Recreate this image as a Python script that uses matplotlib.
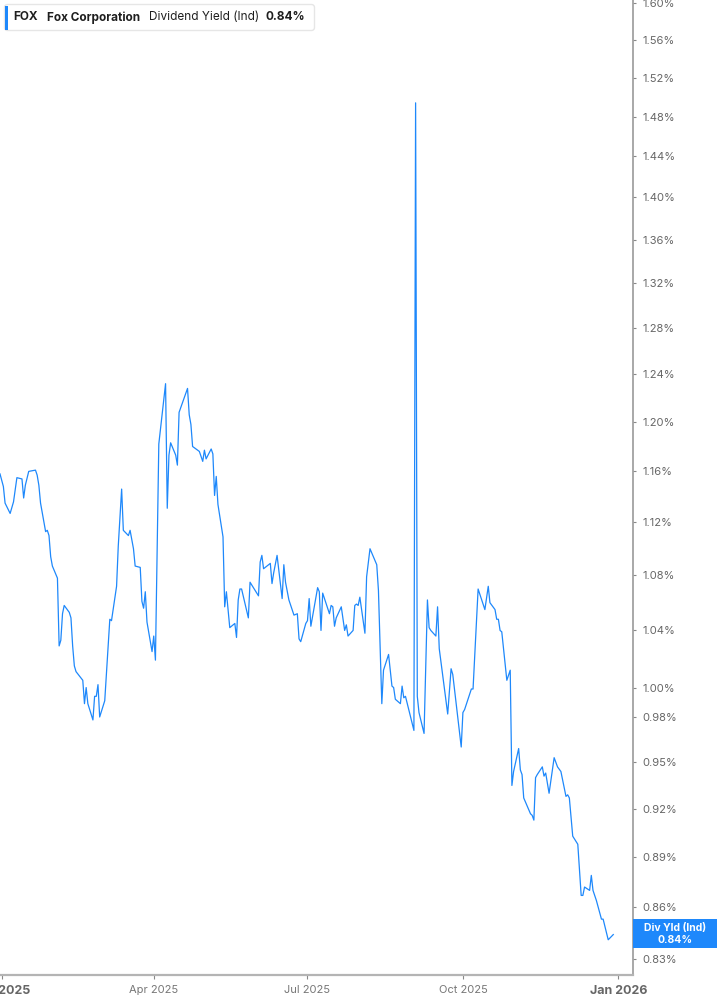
import pandas as pd
import matplotlib.pyplot as plt
from matplotlib.patches import FancyBboxPatch, Rectangle
from matplotlib.ticker import FixedLocator, FixedFormatter, NullLocator

# Dividend yield (ind), percent
dates = [
    '2024-12-31', '2025-01-02', '2025-01-03', '2025-01-06', '2025-01-08', '2025-01-10',
    '2025-01-13', '2025-01-14', '2025-01-15', '2025-01-17', '2025-01-21', '2025-01-22',
    '2025-01-23', '2025-01-24', '2025-01-27', '2025-01-28', '2025-01-29', '2025-01-30',
    '2025-01-31', '2025-02-03', '2025-02-04', '2025-02-05', '2025-02-06', '2025-02-07',
    '2025-02-10', '2025-02-11', '2025-02-12', '2025-02-13', '2025-02-14', '2025-02-18',
    '2025-02-19', '2025-02-20', '2025-02-21', '2025-02-24', '2025-02-25', '2025-02-26',
    '2025-02-27', '2025-02-28', '2025-03-03', '2025-03-04', '2025-03-06', '2025-03-07',
    '2025-03-10', '2025-03-11', '2025-03-13', '2025-03-14', '2025-03-17', '2025-03-18',
    '2025-03-20', '2025-03-21', '2025-03-24', '2025-03-25', '2025-03-26', '2025-03-27',
    '2025-03-28', '2025-03-31', '2025-04-01', '2025-04-02', '2025-04-04', '2025-04-08',
    '2025-04-09', '2025-04-10', '2025-04-11', '2025-04-14', '2025-04-15', '2025-04-16',
    '2025-04-21', '2025-04-22', '2025-04-23', '2025-04-24', '2025-04-28', '2025-04-30',
    '2025-05-01', '2025-05-02', '2025-05-05', '2025-05-06', '2025-05-07', '2025-05-08',
    '2025-05-09', '2025-05-12', '2025-05-13', '2025-05-14', '2025-05-16', '2025-05-19',
    '2025-05-20', '2025-05-21', '2025-05-22', '2025-05-23', '2025-05-27', '2025-05-28',
    '2025-06-02', '2025-06-03', '2025-06-04', '2025-06-05', '2025-06-09', '2025-06-10',
    '2025-06-11', '2025-06-13', '2025-06-16', '2025-06-17', '2025-06-18', '2025-06-20',
    '2025-06-23', '2025-06-25', '2025-06-26', '2025-06-27', '2025-06-30', '2025-07-01',
    '2025-07-02', '2025-07-03', '2025-07-07', '2025-07-08', '2025-07-09', '2025-07-10',
    '2025-07-14', '2025-07-15', '2025-07-16', '2025-07-17', '2025-07-18', '2025-07-21',
    '2025-07-23', '2025-07-24', '2025-07-25', '2025-07-28', '2025-07-29', '2025-07-30',
    '2025-07-31', '2025-08-01', '2025-08-04', '2025-08-05', '2025-08-07', '2025-08-11',
    '2025-08-12', '2025-08-14', '2025-08-15', '2025-08-18', '2025-08-20', '2025-08-21',
    '2025-08-22', '2025-08-25', '2025-08-26', '2025-08-27', '2025-08-28', '2025-09-02',
    '2025-09-03', '2025-09-04', '2025-09-05', '2025-09-08', '2025-09-10', '2025-09-11',
    '2025-09-12', '2025-09-15', '2025-09-16', '2025-09-17', '2025-09-22', '2025-09-24',
    '2025-09-25', '2025-09-30', '2025-10-01', '2025-10-02', '2025-10-06', '2025-10-07',
    '2025-10-10', '2025-10-14', '2025-10-16', '2025-10-17', '2025-10-20', '2025-10-21',
    '2025-10-22', '2025-10-23', '2025-10-24', '2025-10-27', '2025-10-29', '2025-10-30',
    '2025-10-31', '2025-11-03', '2025-11-04', '2025-11-05', '2025-11-06', '2025-11-10',
    '2025-11-11', '2025-11-12', '2025-11-13', '2025-11-14', '2025-11-17', '2025-11-18',
    '2025-11-19', '2025-11-21', '2025-11-24', '2025-11-26', '2025-11-28', '2025-12-01',
    '2025-12-02', '2025-12-03', '2025-12-05', '2025-12-08', '2025-12-10', '2025-12-11',
    '2025-12-12', '2025-12-15', '2025-12-16', '2025-12-17', '2025-12-19', '2025-12-22',
    '2025-12-23', '2025-12-26', '2025-12-29',
]
yield_pct = [
    1.158, 1.148, 1.135, 1.127, 1.136, 1.155,
    1.154, 1.139, 1.149, 1.160, 1.161, 1.157,
    1.149, 1.135, 1.113, 1.114, 1.110, 1.094,
    1.087, 1.078, 1.029, 1.033, 1.052, 1.058,
    1.053, 1.049, 1.029, 1.015, 1.011, 1.005,
    0.989, 1.000, 0.989, 0.978, 0.994, 0.994,
    1.002, 0.980, 0.991, 1.010, 1.048, 1.047,
    1.072, 1.102, 1.146, 1.114, 1.110, 1.114,
    1.100, 1.087, 1.086, 1.061, 1.056, 1.068,
    1.046, 1.025, 1.036, 1.019, 1.182, 1.232,
    1.131, 1.173, 1.183, 1.173, 1.165, 1.208,
    1.228, 1.206, 1.198, 1.180, 1.176, 1.168,
    1.177, 1.170, 1.178, 1.174, 1.141, 1.156,
    1.134, 1.109, 1.057, 1.068, 1.042, 1.045,
    1.035, 1.062, 1.070, 1.070, 1.049, 1.075,
    1.065, 1.090, 1.095, 1.085, 1.089, 1.074,
    1.082, 1.095, 1.063, 1.088, 1.075, 1.062,
    1.051, 1.052, 1.034, 1.032, 1.045, 1.047,
    1.063, 1.043, 1.071, 1.068, 1.040, 1.067,
    1.052, 1.058, 1.057, 1.043, 1.049, 1.057,
    1.040, 1.044, 1.036, 1.040, 1.058, 1.059,
    1.058, 1.064, 1.038, 1.079, 1.100, 1.088,
    1.069, 0.989, 1.012, 1.023, 1.001, 1.000,
    0.992, 0.989, 1.001, 0.993, 0.994, 0.971,
    1.494, 0.994, 0.983, 0.969, 1.062, 1.042,
    1.040, 1.036, 1.057, 1.027, 0.982, 1.013,
    1.009, 0.960, 0.983, 0.985, 0.999, 0.999,
    1.070, 1.055, 1.072, 1.060, 1.055, 1.048,
    1.048, 1.040, 1.039, 1.005, 1.012, 0.935,
    0.944, 0.959, 0.945, 0.942, 0.927, 0.917,
    0.916, 0.913, 0.940, 0.942, 0.947, 0.941,
    0.943, 0.930, 0.953, 0.947, 0.944, 0.928,
    0.929, 0.927, 0.903, 0.898, 0.867, 0.867,
    0.872, 0.870, 0.879, 0.870, 0.864, 0.853,
    0.853, 0.841, 0.844,
]

y_ticks = [0.83, 0.86, 0.89, 0.92, 0.95, 0.98, 1.00, 1.04, 1.08, 1.12, 1.16,
           1.20, 1.24, 1.28, 1.32, 1.36, 1.40, 1.44, 1.48, 1.52, 1.56, 1.60]
x_ticks = ['2025-01-01', '2025-04-01', '2025-07-01', '2025-10-01', '2026-01-01']
x_labels = ['Jan 2025', 'Apr 2025', 'Jul 2025', 'Oct 2025', 'Jan 2026']

ticker = 'FOX'
company = 'Fox Corporation'
metric = 'Dividend Yield (Ind)'
last_text = 'Div Yld (Ind)'
last_value = '0.84%'

BLUE = '#1e88fb'
plt.rcParams['font.family'] = ['Inter', 'DejaVu Sans']

W, H = 717, 1005
fig = plt.figure(figsize=(W / 100, H / 100), dpi=100)
ax = fig.add_axes([0, 30 / H, 632.7 / W, 975 / H])

ax.plot(pd.to_datetime(dates), yield_pct, color=BLUE, lw=0.9)

ax.set_yscale('log')
ax.set_ylim(0.8209, 1.6033)
ax.set_xlim(pd.Timestamp('2024-12-31'), pd.Timestamp('2026-01-09 12:00'))

ax.yaxis.tick_right()
ax.yaxis.set_major_locator(FixedLocator(y_ticks))
ax.yaxis.set_major_formatter(FixedFormatter(['{:.2f}%'.format(v) for v in y_ticks]))
ax.yaxis.set_minor_locator(NullLocator())
ax.set_xticks(pd.to_datetime(x_ticks))
ax.set_xticklabels(x_labels)

for s in ['top', 'left']:
    ax.spines[s].set_visible(False)
ax.spines['right'].set_color('#9a9a9a')
ax.spines['right'].set_linewidth(1.2)
ax.spines['bottom'].set_color('#b4b4b4')
ax.spines['bottom'].set_linewidth(1.6)

ax.tick_params(axis='y', length=2, width=0.8, color='#888888', pad=5,
               labelsize=8, labelcolor='#666666')
ax.tick_params(axis='x', length=3, width=0.8, color='#888888', pad=4,
               labelsize=8, labelcolor='#777777')
for lab in ax.get_xticklabels():
    if lab.get_text().startswith('Jan'):
        lab.set_fontweight('bold')
        lab.set_color('#666666')
        lab.set_fontsize(9)


def fy(y):
    return 1 - y / H


# header box
fig.patches.append(FancyBboxPatch((4.5, H - 30.5), 310, 26,
                                  boxstyle='round,pad=0,rounding_size=3',
                                  transform=None, facecolor='white',
                                  edgecolor='#e6e6e6', lw=1, zorder=5))
fig.patches.append(Rectangle((4.5, H - 29.5), 3, 24, transform=None,
                             facecolor=BLUE, edgecolor='none', zorder=6))
head = dict(fontsize=8.5, color='#1f1f1f', va='center', zorder=8)
fig.text(13 / W, fy(17.5), ticker, fontweight='bold', **head)
fig.text(47 / W, fy(17.5), company, fontweight='bold', **head)
fig.text(149 / W, fy(17.5), metric, **head)
fig.text(266 / W, fy(17.5), last_value, fontweight='bold', **head)

# last value badge on the right axis
fig.patches.append(Rectangle((632.7, H - 948), W - 632.7, 29, transform=None,
                             facecolor=BLUE, edgecolor='none', zorder=6))
badge = dict(fontsize=7.5, fontweight='bold', color='white', ha='center',
             va='center', zorder=8)
fig.text(675 / W, fy(928), last_text, **badge)
fig.text(675 / W, fy(940), last_value, **badge)

fig.savefig('out.png', dpi=100)
